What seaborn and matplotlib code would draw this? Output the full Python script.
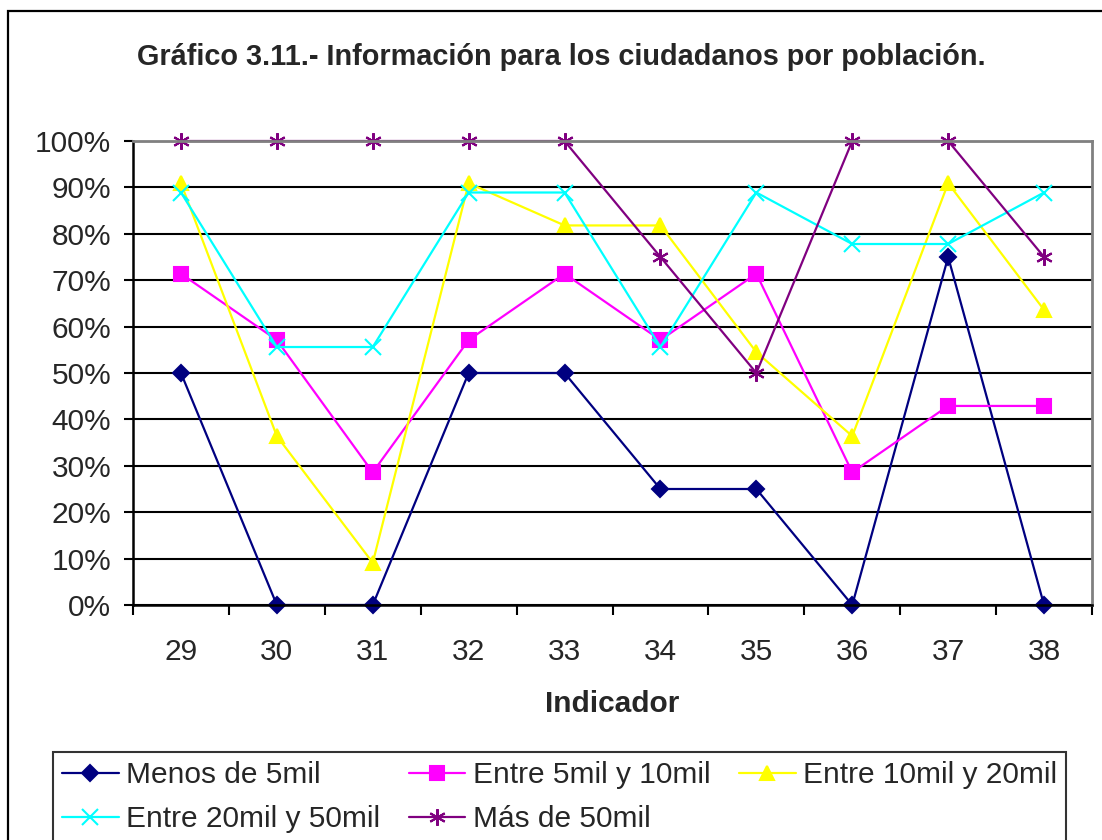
import numpy as np
import pandas as pd
import seaborn as sns
import matplotlib.pyplot as plt
from matplotlib.patches import Rectangle
from matplotlib.ticker import FuncFormatter

indicadores = ['29', '30', '31', '32', '33', '34', '35', '36', '37', '38']

menos_5mil = [50, 0, 0, 50, 50, 25, 25, 0, 75, 0]
entre_5_10 = [71.4, 57.1, 28.6, 57.1, 71.4, 57.1, 71.4, 28.6, 42.9, 42.9]
entre_10_20 = [90.9, 36.4, 9.1, 90.9, 81.8, 81.8, 54.5, 36.4, 90.9, 63.6]
entre_20_50 = [88.9, 55.6, 55.6, 88.9, 88.9, 55.6, 88.9, 77.8, 77.8, 88.9]
mas_50mil = [100, 100, 100, 100, 100, 75, 50, 100, 100, 75]

series = {
    'Menos de 5mil': menos_5mil,
    'Entre 5mil y 10mil': entre_5_10,
    'Entre 10mil y 20mil': entre_10_20,
    'Entre 20mil y 50mil': entre_20_50,
    'Más de 50mil': mas_50mil,
}
colores = ['#000080', '#FF00FF', '#FFFF00', '#00FFFF', '#800080']
marcadores = ['D', 's', '^', 'x', (6, 2, 0)]
tamanos = [8, 10, 10, 11, 12]

sns.set_style('white')
plt.rcParams['font.family'] = ['Liberation Sans', 'DejaVu Sans']
FS = 21.5

fig = plt.figure(figsize=(11.02, 8.4), dpi=100)
ax = fig.add_axes([133 / 1102, 1 - 605 / 840, (1092 - 133) / 1102, (605 - 141) / 840])

pos = np.arange(len(indicadores))
for (nombre, vals), c, m, ms in zip(series.items(), colores, marcadores, tamanos):
    sns.lineplot(x=pos, y=vals, ax=ax, color=c, marker=m, markersize=ms,
                 markeredgecolor=c, markeredgewidth=1.5, linewidth=1.6,
                 label=nombre, legend=False, clip_on=False)

ax.set_xlim(-0.5, len(indicadores) - 0.5)
ax.set_ylim(0, 100)
ax.set_yticks(np.arange(0, 101, 10))
ax.yaxis.set_major_formatter(FuncFormatter(lambda v, p: f'{int(v)}%'))
ax.yaxis.grid(True, color='black', linewidth=1.5)
ax.set_axisbelow(True)

ax.set_xticks(pos)
ax.set_xticklabels(indicadores)
ax.set_xticks(np.arange(-0.5, len(indicadores)), minor=True)
ax.tick_params(axis='x', which='major', length=0, pad=24, labelsize=FS)
ax.tick_params(axis='x', which='minor', length=7, width=1.5, color='black', direction='out')
ax.tick_params(axis='y', length=6.5, width=1.5, color='black', direction='out', labelsize=FS, pad=9)
ax.tick_params(bottom=True, left=True)
ax.xaxis.set_tick_params(which='minor', bottom=True)

for lado in ['left', 'bottom']:
    ax.spines[lado].set_color('black')
    ax.spines[lado].set_linewidth(1.8)
for lado in ['top', 'right']:
    ax.spines[lado].set_color('#808080')
    ax.spines[lado].set_linewidth(2)

ax.set_xlabel('Indicador', fontsize=FS, fontweight='bold', labelpad=17)
ax.set_ylabel('')

fig.text(561 / 1102, 1 - 57 / 840, 'Gráfico 3.11.- Información para los ciudadanos por población.',
         ha='center', va='center', fontsize=20.8, fontweight='bold')

# borde exterior del grafico
fig.patches.append(Rectangle((8 / 1102, -0.05), 1.2, 1 - 11 / 840 + 0.05,
                             transform=fig.transFigure, fill=False,
                             edgecolor='black', linewidth=1.6))

handles, labels = ax.get_legend_handles_labels()
orden = [0, 3, 1, 4, 2]  # para que se lea por filas
leg = fig.legend([handles[i] for i in orden], [labels[i] for i in orden],
                 loc='upper left', bbox_to_anchor=(53 / 1102, 1 - 752 / 840),
                 ncol=3, fontsize=FS, frameon=True, fancybox=False, edgecolor='black',
                 handlelength=1.9, handletextpad=0.25, columnspacing=0.95,
                 labelspacing=0.55, borderpad=0.3, borderaxespad=0)
leg.get_frame().set_linewidth(1.5)

fig.savefig('out.png', dpi=100, facecolor='white')
